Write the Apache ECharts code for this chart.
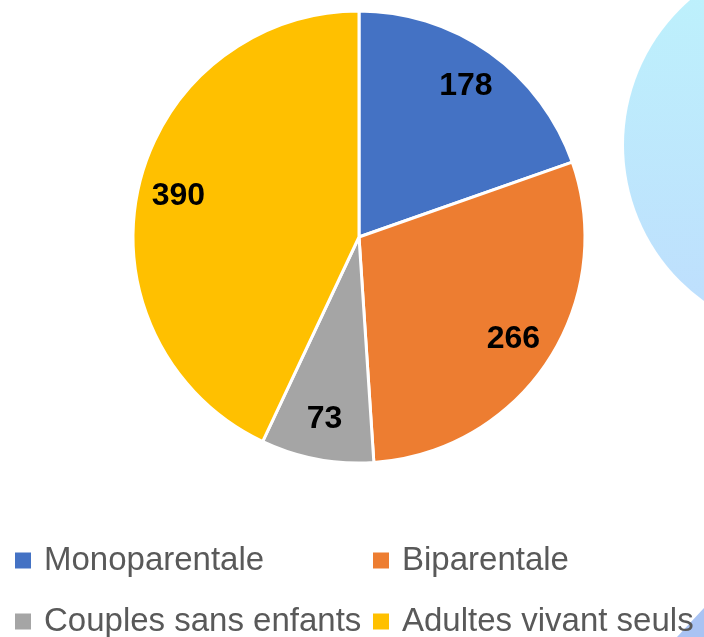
<!DOCTYPE html>
<html>
<head>
<meta charset="utf-8">
<script src="https://cdn.jsdelivr.net/npm/echarts@6/dist/echarts.min.js"></script>
<style>
  html, body { margin: 0; padding: 0; background: #fff; }
  #main { width: 704px; height: 637px; }
</style>
</head>
<body>
<div id="main"></div>
<script>
// catégories et valeurs du camembert
const categories = ['Monoparentale', 'Biparentale', 'Couples sans enfants', 'Adultes vivant seuls'];
const values = [178, 266, 73, 390];
const colors = ['#4472C4', '#ED7D31', '#A5A5A5', '#FFC000'];

const chart = echarts.init(document.getElementById('main'));

const pieData = categories.map((name, i) => ({ name: name, value: values[i], itemStyle: { color: colors[i] } }));

// une légende par entrée, placée en grille 2 x 2
const legendPos = [[15, 544], [373, 544], [15, 605], [373, 605]];
const legends = categories.map((name, i) => ({
    left: legendPos[i][0],
    top: legendPos[i][1],
    padding: 0,
    itemWidth: 16,
    itemHeight: 16,
    icon: 'rect',
    itemStyle: { borderWidth: 0 },
    data: [name],
    textStyle: {
        fontFamily: '"Liberation Sans", Arial, sans-serif',
        fontSize: 33,
        color: '#595959',
        padding: [0, 0, 0, 8]
    }
}));

chart.setOption({
    animation: false,
    // décor : cercle bleu clair à droite et triangle en bas
    graphic: [
        {
            type: 'circle',
            shape: { cx: 816, cy: 145, r: 192 },
            style: {
                fill: new echarts.graphic.LinearGradient(0, 0, 0, 1, [
                    { offset: 0, color: '#BDF3FC' },
                    { offset: 1, color: '#BEDDFD' }
                ])
            },
            z: -10
        },
        {
            type: 'polygon',
            shape: { points: [[677, 637], [704, 608], [704, 637]] },
            style: { fill: '#A9C3F3' },
            z: -10
        }
    ],
    legend: legends,
    series: [
        {
            type: 'pie',
            center: [359, 237],
            radius: [0, 226],
            startAngle: 90,
            clockwise: true,
            itemStyle: { borderColor: '#fff', borderWidth: 3 },
            label: { show: false },
            labelLine: { show: false },
            emphasis: { disabled: true },
            data: pieData
        },
        {
            // anneau transparent pour placer les étiquettes vers l'extérieur
            type: 'pie',
            center: [359, 237],
            radius: [138, 226],
            startAngle: 90,
            clockwise: true,
            silent: true,
            itemStyle: { color: 'transparent', borderWidth: 0 },
            label: {
                show: true,
                position: 'inside',
                formatter: '{c}',
                color: '#000',
                fontSize: 32,
                fontWeight: 'bold',
                fontFamily: '"Liberation Sans", Arial, sans-serif'
            },
            labelLine: { show: false },
            emphasis: { disabled: true },
            data: categories.map((name, i) => ({ name: name, value: values[i] }))
        }
    ]
});
</script>
</body>
</html>
